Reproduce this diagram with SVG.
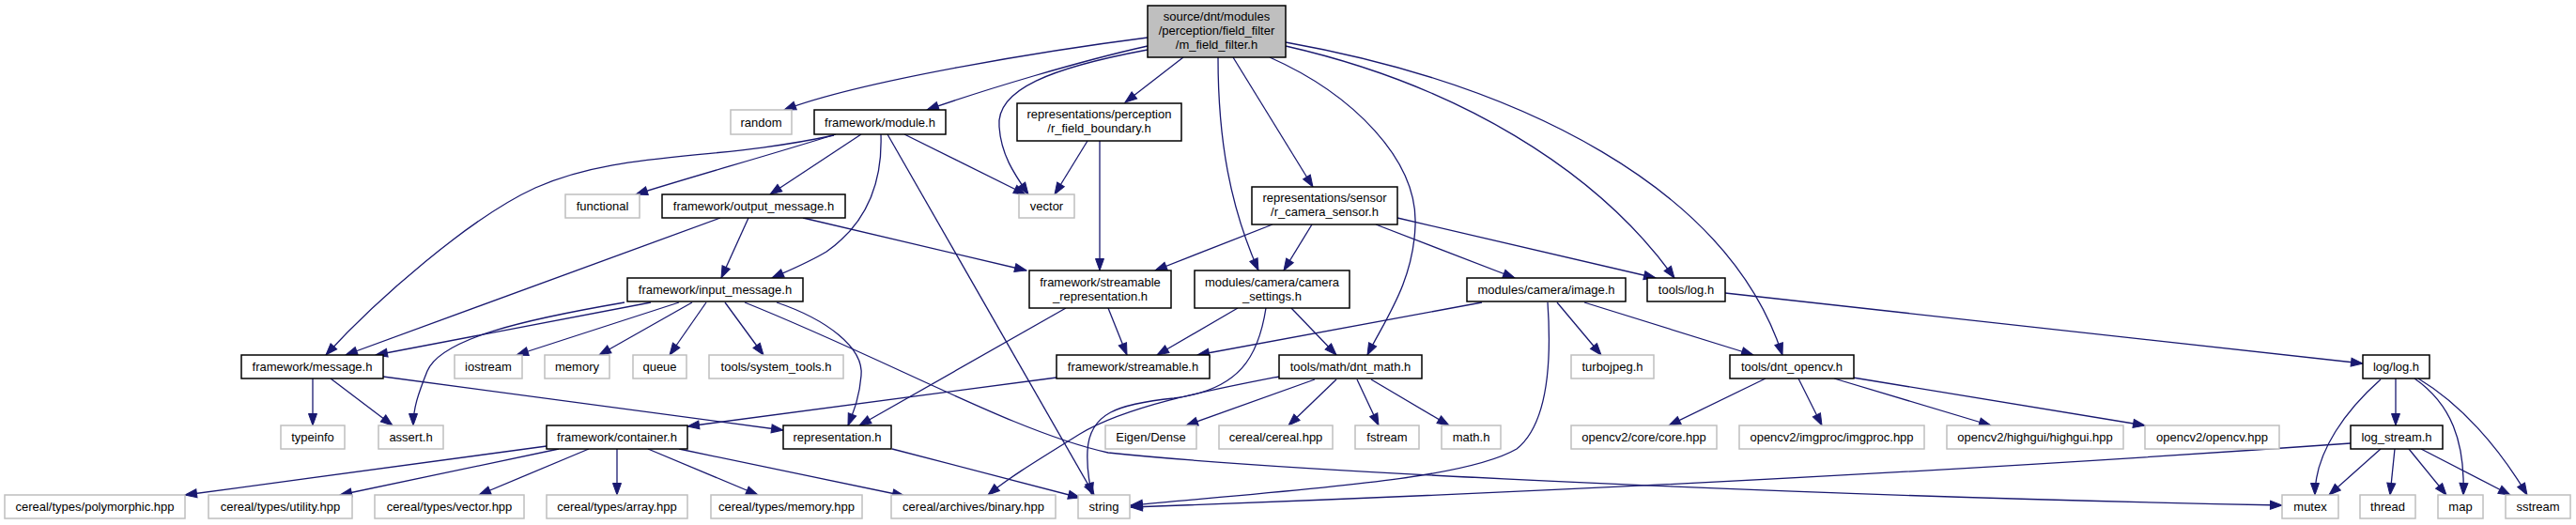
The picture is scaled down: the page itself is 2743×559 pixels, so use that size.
<svg xmlns="http://www.w3.org/2000/svg" width="2743" height="559" viewBox="0 0 2743 559">
<style>
text{font-family:"Liberation Sans",Arial,Helvetica,sans-serif;font-size:13px;text-anchor:middle;fill:#000}
.d rect{fill:#fff;stroke:#000;stroke-width:1.5}
.u rect{fill:#fff;stroke:#bfbfbf;stroke-width:1.5}
.m rect{fill:#bfbfbf;stroke:#000;stroke-width:1.5}
#edges path{fill:none;stroke:#191970;stroke-width:1.3;marker-end:url(#ah)}
</style>
<defs>
<marker id="ah" markerUnits="userSpaceOnUse" markerWidth="14" markerHeight="11" refX="12.5" refY="5" orient="auto" overflow="visible">
<path d="M0,0.5 L12.5,5 L0,9.5 z" fill="#191970" stroke="#191970" stroke-width="1"/>
</marker>
</defs>
<rect width="2743" height="559" fill="#fff"/>
<g id="edges">
<path d="M1222,40 C1120,53 920,85 835,117"/>
<path d="M1222,49 C1150,65 1050,95 987,117"/>
<path d="M1222,53 C1120,72 1060,95 1064,135 C1066,165 1080,185 1095,207"/>
<path d="M1260,61 L1198,109"/>
<path d="M1297,61 C1297,150 1310,220 1340,288"/>
<path d="M1313,61 L1398,199"/>
<path d="M1352,61 C1440,100 1510,170 1507,240 C1505,300 1475,340 1456,378"/>
<path d="M1369,49 C1550,90 1700,180 1783,296"/>
<path d="M1369,45 C1620,90 1840,200 1898,378"/>
<path d="M890,143 C820,165 730,190 677,207"/>
<path d="M917,143 L820,207"/>
<path d="M888,144 C760,172 660,160 570,200 C500,232 400,320 347,378"/>
<path d="M938,143 C940,200 920,240 880,268 C860,280 840,288 822,296"/>
<path d="M963,143 L1092,207"/>
<path d="M945,143 L1165,527"/>
<path d="M1158,150 L1123,207"/>
<path d="M1171,150 L1171,288"/>
<path d="M767,232 L368,378"/>
<path d="M797,232 L768,296"/>
<path d="M855,232 L1093,288"/>
<path d="M1355,239 L1230,288"/>
<path d="M1397,239 L1367,288"/>
<path d="M1465,239 L1613,296"/>
<path d="M1488,232 L1763,296"/>
<path d="M723,322 L550,378"/>
<path d="M737,322 L638,378"/>
<path d="M752,322 L713,378"/>
<path d="M772,322 L813,378"/>
<path d="M693,322 L400,378"/>
<path d="M665,322 C560,340 470,360 455,395 C445,420 440,435 440,453"/>
<path d="M827,322 C880,340 920,370 917,400 C915,425 908,440 903,453"/>
<path d="M793,322 C950,385 1080,460 1180,482 C1400,505 2000,530 2430,538"/>
<path d="M333,403 L333,453"/>
<path d="M352,403 L418,453"/>
<path d="M408,401 L834,458"/>
<path d="M1180,328 L1200,378"/>
<path d="M1135,328 L915,453"/>
<path d="M1318,328 L1232,378"/>
<path d="M1375,328 L1423,378"/>
<path d="M1348,328 C1340,380 1320,415 1250,424 C1190,430 1160,440 1158,480 C1157,500 1160,515 1163,527"/>
<path d="M1578,322 L1275,378"/>
<path d="M1658,322 L1705,378"/>
<path d="M1687,322 L1867,378"/>
<path d="M1648,322 C1652,380 1650,450 1615,478 C1560,510 1400,520 1204,538"/>
<path d="M1837,312 L2516,387"/>
<path d="M1125,402 L732,454"/>
<path d="M1400,404 L1263,453"/>
<path d="M1423,404 L1372,453"/>
<path d="M1445,404 L1468,453"/>
<path d="M1460,404 L1543,453"/>
<path d="M1362,401 C1290,415 1200,432 1150,462 C1105,490 1075,508 1052,527"/>
<path d="M582,475 L197,527"/>
<path d="M595,478 L362,527"/>
<path d="M627,478 L510,527"/>
<path d="M657,478 L657,527"/>
<path d="M690,478 L807,527"/>
<path d="M723,478 L963,528"/>
<path d="M950,478 L1150,530"/>
<path d="M1880,403 L1777,453"/>
<path d="M1915,403 L1940,453"/>
<path d="M1953,403 L2120,453"/>
<path d="M1973,402 L2284,453"/>
<path d="M2551,403 L2551,453"/>
<path d="M2535,404 C2500,435 2465,480 2465,527"/>
<path d="M2571,403 C2610,430 2625,470 2623,527"/>
<path d="M2575,403 C2620,430 2660,475 2691,527"/>
<path d="M2535,478 L2480,527"/>
<path d="M2550,478 L2545,527"/>
<path d="M2565,478 L2605,527"/>
<path d="M2578,478 L2673,527"/>
<path d="M2503,472 Q1900,515 1204,540"/>
</g>
<g id="n_main" class="m"><rect x="1222" y="6" width="147" height="55"/><text x="1295.5" y="22">source/dnt/modules</text><text x="1295.5" y="37">/perception/field_filter</text><text x="1295.5" y="52">/m_field_filter.h</text></g>
<g id="n_random" class="u"><rect x="778" y="117" width="65" height="26"/><text x="810.5" y="134.5">random</text></g>
<g id="n_module" class="d"><rect x="867" y="117" width="140" height="26"/><text x="937" y="134.5">framework/module.h</text></g>
<g id="n_rfb" class="d"><rect x="1083" y="110" width="175" height="40"/><text x="1170.5" y="126">representations/perception</text><text x="1170.5" y="141">/r_field_boundary.h</text></g>
<g id="n_functional" class="u"><rect x="602" y="207" width="79" height="25"/><text x="641.5" y="224">functional</text></g>
<g id="n_output" class="d"><rect x="705" y="207" width="195" height="25"/><text x="802.5" y="224">framework/output_message.h</text></g>
<g id="n_vector" class="u"><rect x="1085" y="207" width="59" height="25"/><text x="1114.5" y="224">vector</text></g>
<g id="n_rcs" class="d"><rect x="1333" y="199" width="155" height="40"/><text x="1410.5" y="215">representations/sensor</text><text x="1410.5" y="230">/r_camera_sensor.h</text></g>
<g id="n_input" class="d"><rect x="668" y="296" width="187" height="25"/><text x="761.5" y="313">framework/input_message.h</text></g>
<g id="n_srep" class="d"><rect x="1096" y="288" width="151" height="40"/><text x="1171.5" y="305">framework/streamable</text><text x="1171.5" y="320">_representation.h</text></g>
<g id="n_camset" class="d"><rect x="1272" y="288" width="165" height="40"/><text x="1354.5" y="305">modules/camera/camera</text><text x="1354.5" y="320">_settings.h</text></g>
<g id="n_image" class="d"><rect x="1562" y="296" width="169" height="25"/><text x="1646.5" y="313">modules/camera/image.h</text></g>
<g id="n_toolslog" class="d"><rect x="1754" y="296" width="83" height="25"/><text x="1795.5" y="313">tools/log.h</text></g>
<g id="n_message" class="d"><rect x="257" y="378" width="151" height="25"/><text x="332.5" y="395">framework/message.h</text></g>
<g id="n_iostream" class="u"><rect x="484" y="378" width="72" height="25"/><text x="520" y="395">iostream</text></g>
<g id="n_memory" class="u"><rect x="580" y="378" width="69" height="25"/><text x="614.5" y="395">memory</text></g>
<g id="n_queue" class="u"><rect x="674" y="378" width="57" height="25"/><text x="702.5" y="395">queue</text></g>
<g id="n_systools" class="u"><rect x="755" y="378" width="143" height="25"/><text x="826.5" y="395">tools/system_tools.h</text></g>
<g id="n_streamable" class="d"><rect x="1125" y="378" width="163" height="25"/><text x="1206.5" y="395">framework/streamable.h</text></g>
<g id="n_dntmath" class="d"><rect x="1362" y="378" width="152" height="25"/><text x="1438" y="395">tools/math/dnt_math.h</text></g>
<g id="n_turbojpeg" class="u"><rect x="1673" y="378" width="88" height="25"/><text x="1717" y="395">turbojpeg.h</text></g>
<g id="n_dntopencv" class="d"><rect x="1842" y="378" width="132" height="25"/><text x="1908" y="395">tools/dnt_opencv.h</text></g>
<g id="n_loglog" class="d"><rect x="2516" y="378" width="71" height="25"/><text x="2551.5" y="395">log/log.h</text></g>
<g id="n_typeinfo" class="u"><rect x="299" y="453" width="68" height="25"/><text x="333" y="470">typeinfo</text></g>
<g id="n_assert" class="u"><rect x="403" y="453" width="69" height="25"/><text x="437.5" y="470">assert.h</text></g>
<g id="n_container" class="d"><rect x="582" y="453" width="150" height="25"/><text x="657" y="470">framework/container.h</text></g>
<g id="n_repr" class="d"><rect x="834" y="453" width="115" height="25"/><text x="891.5" y="470">representation.h</text></g>
<g id="n_eigen" class="u"><rect x="1177" y="453" width="97" height="25"/><text x="1225.5" y="470">Eigen/Dense</text></g>
<g id="n_cereal" class="u"><rect x="1298" y="453" width="121" height="25"/><text x="1358.5" y="470">cereal/cereal.hpp</text></g>
<g id="n_fstream" class="u"><rect x="1443" y="453" width="68" height="25"/><text x="1477" y="470">fstream</text></g>
<g id="n_math" class="u"><rect x="1535" y="453" width="63" height="25"/><text x="1566.5" y="470">math.h</text></g>
<g id="n_core" class="u"><rect x="1673" y="453" width="155" height="25"/><text x="1750.5" y="470">opencv2/core/core.hpp</text></g>
<g id="n_imgproc" class="u"><rect x="1852" y="453" width="197" height="25"/><text x="1950.5" y="470">opencv2/imgproc/imgproc.hpp</text></g>
<g id="n_highgui" class="u"><rect x="2073" y="453" width="188" height="25"/><text x="2167" y="470">opencv2/highgui/highgui.hpp</text></g>
<g id="n_opencv" class="u"><rect x="2284" y="453" width="143" height="25"/><text x="2355.5" y="470">opencv2/opencv.hpp</text></g>
<g id="n_logstream" class="d"><rect x="2503" y="453" width="98" height="25"/><text x="2552" y="470">log_stream.h</text></g>
<g id="n_poly" class="u"><rect x="5" y="527" width="192" height="25"/><text x="101" y="544">cereal/types/polymorphic.hpp</text></g>
<g id="n_utility" class="u"><rect x="222" y="527" width="153" height="25"/><text x="298.5" y="544">cereal/types/utility.hpp</text></g>
<g id="n_vechpp" class="u"><rect x="399" y="527" width="159" height="25"/><text x="478.5" y="544">cereal/types/vector.hpp</text></g>
<g id="n_array" class="u"><rect x="582" y="527" width="150" height="25"/><text x="657" y="544">cereal/types/array.hpp</text></g>
<g id="n_memhpp" class="u"><rect x="757" y="527" width="161" height="25"/><text x="837.5" y="544">cereal/types/memory.hpp</text></g>
<g id="n_binary" class="u"><rect x="949" y="527" width="175" height="25"/><text x="1036.5" y="544">cereal/archives/binary.hpp</text></g>
<g id="n_string" class="u"><rect x="1148" y="527" width="55" height="25"/><text x="1175.5" y="544">string</text></g>
<g id="n_mutex" class="u"><rect x="2430" y="527" width="60" height="25"/><text x="2460" y="544">mutex</text></g>
<g id="n_thread" class="u"><rect x="2513" y="527" width="59" height="25"/><text x="2542.5" y="544">thread</text></g>
<g id="n_map" class="u"><rect x="2596" y="527" width="48" height="25"/><text x="2620" y="544">map</text></g>
<g id="n_sstream" class="u"><rect x="2668" y="527" width="69" height="25"/><text x="2702.5" y="544">sstream</text></g>
</svg>
